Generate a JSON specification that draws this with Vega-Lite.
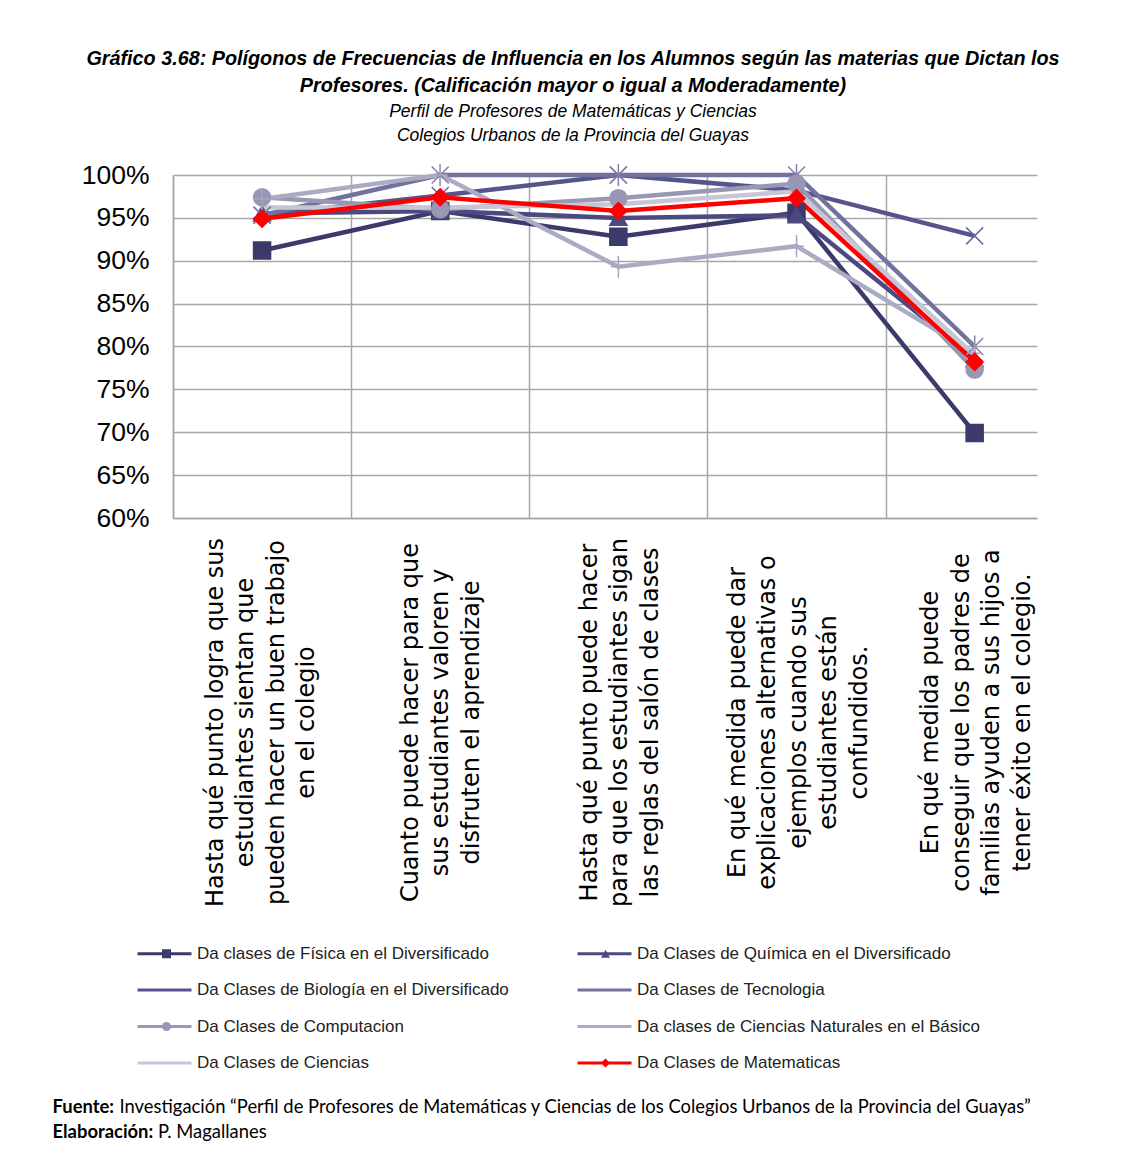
{
  "$schema": "https://vega.github.io/schema/vega-lite/v6.json",
  "width": 864,
  "height": 343,
  "autosize": "none",
  "padding": {"left": 173, "top": 175, "right": 89, "bottom": 651},
  "background": "white",
  "config": {"view": {"stroke": null}},
  "title": {
    "text": ["Gráfico 3.68: Polígonos de Frecuencias  de Influencia en los Alumnos según las materias que Dictan los", "Profesores. (Calificación mayor o igual a Moderadamente)"],
    "subtitle": ["Perfil de Profesores de Matemáticas y Ciencias", "Colegios Urbanos de la Provincia del Guayas"],
    "font": "Liberation Sans", "fontSize": 19.8, "fontWeight": "bold", "fontStyle": "italic", "lineHeight": 27, "color": "black",
    "subtitleFont": "Liberation Sans", "subtitleFontSize": 17.5, "subtitleFontStyle": "italic", "subtitleLineHeight": 24, "subtitleColor": "black", "subtitlePadding": 8,
    "anchor": "middle", "frame": "group", "dx": -32, "offset": 16
  },
  "data": {"values": [
    {"serie": "Da clases de Física en el Diversificado", "pregunta_n": 1, "valor": 0.912},
    {"serie": "Da clases de Física en el Diversificado", "pregunta_n": 2, "valor": 0.958},
    {"serie": "Da clases de Física en el Diversificado", "pregunta_n": 3, "valor": 0.928},
    {"serie": "Da clases de Física en el Diversificado", "pregunta_n": 4, "valor": 0.956},
    {"serie": "Da clases de Física en el Diversificado", "pregunta_n": 5, "valor": 0.699},
    {"serie": "Da Clases de Química en el Diversificado", "pregunta_n": 1, "valor": 0.955},
    {"serie": "Da Clases de Química en el Diversificado", "pregunta_n": 2, "valor": 0.958},
    {"serie": "Da Clases de Química en el Diversificado", "pregunta_n": 3, "valor": 0.950},
    {"serie": "Da Clases de Química en el Diversificado", "pregunta_n": 4, "valor": 0.953},
    {"serie": "Da Clases de Química en el Diversificado", "pregunta_n": 5, "valor": 0.785},
    {"serie": "Da Clases de Biología en el Diversificado", "pregunta_n": 1, "valor": 0.953},
    {"serie": "Da Clases de Biología en el Diversificado", "pregunta_n": 2, "valor": 0.976},
    {"serie": "Da Clases de Biología en el Diversificado", "pregunta_n": 3, "valor": 1.0},
    {"serie": "Da Clases de Biología en el Diversificado", "pregunta_n": 4, "valor": 0.982},
    {"serie": "Da Clases de Biología en el Diversificado", "pregunta_n": 5, "valor": 0.929},
    {"serie": "Da Clases de Tecnologia", "pregunta_n": 1, "valor": 0.953},
    {"serie": "Da Clases de Tecnologia", "pregunta_n": 2, "valor": 1.0},
    {"serie": "Da Clases de Tecnologia", "pregunta_n": 3, "valor": 1.0},
    {"serie": "Da Clases de Tecnologia", "pregunta_n": 4, "valor": 1.0},
    {"serie": "Da Clases de Tecnologia", "pregunta_n": 5, "valor": 0.800},
    {"serie": "Da Clases de Computacion", "pregunta_n": 1, "valor": 0.974},
    {"serie": "Da Clases de Computacion", "pregunta_n": 2, "valor": 0.960},
    {"serie": "Da Clases de Computacion", "pregunta_n": 3, "valor": 0.973},
    {"serie": "Da Clases de Computacion", "pregunta_n": 4, "valor": 0.990},
    {"serie": "Da Clases de Computacion", "pregunta_n": 5, "valor": 0.773},
    {"serie": "Da clases de Ciencias Naturales en el Básico", "pregunta_n": 1, "valor": 0.972},
    {"serie": "Da clases de Ciencias Naturales en el Básico", "pregunta_n": 2, "valor": 1.0},
    {"serie": "Da clases de Ciencias Naturales en el Básico", "pregunta_n": 3, "valor": 0.893},
    {"serie": "Da clases de Ciencias Naturales en el Básico", "pregunta_n": 4, "valor": 0.917},
    {"serie": "Da clases de Ciencias Naturales en el Básico", "pregunta_n": 5, "valor": 0.792},
    {"serie": "Da Clases de Ciencias", "pregunta_n": 1, "valor": 0.962},
    {"serie": "Da Clases de Ciencias", "pregunta_n": 2, "valor": 0.962},
    {"serie": "Da Clases de Ciencias", "pregunta_n": 3, "valor": 0.966},
    {"serie": "Da Clases de Ciencias", "pregunta_n": 4, "valor": 0.981},
    {"serie": "Da Clases de Ciencias", "pregunta_n": 5, "valor": 0.790},
    {"serie": "Da Clases de Matematicas", "pregunta_n": 1, "valor": 0.949},
    {"serie": "Da Clases de Matematicas", "pregunta_n": 2, "valor": 0.974},
    {"serie": "Da Clases de Matematicas", "pregunta_n": 3, "valor": 0.958},
    {"serie": "Da Clases de Matematicas", "pregunta_n": 4, "valor": 0.973},
    {"serie": "Da Clases de Matematicas", "pregunta_n": 5, "valor": 0.782}
  ]},
  "encoding": {
    "x": {
      "field": "pregunta_n", "type": "quantitative",
      "scale": {"domain": [0.5, 5.35], "nice": false, "zero": false},
      "axis": {
        "values": [0.5, 1.5, 2.5, 3.5, 4.5],
        "grid": true, "gridColor": "#a6a6a6", "gridWidth": 1.5,
        "ticks": false, "domain": true, "domainColor": "#a6a6a6", "domainWidth": 1.5,
        "labelExpr": "datum.value == 0.5 ? ['Hasta qué punto logra que sus', 'estudiantes sientan que', 'pueden hacer un buen trabajo', 'en el colegio'] : datum.value == 1.5 ? ['Cuanto  puede hacer para que', 'sus estudiantes valoren y', 'disfruten el aprendizaje'] : datum.value == 2.5 ? ['Hasta qué punto puede hacer', 'para que los estudiantes sigan', 'las reglas del salón de clases'] : datum.value == 3.5 ? ['En qué medida puede dar', 'explicaciones alternativas o', 'ejemplos cuando sus', 'estudiantes están', 'confundidos.'] : ['En qué medida puede', 'conseguir que los padres de', 'familias ayuden a sus hijos a', 'tener éxito en el colegio.']",
        "labelOffset": {"condition": [
          {"test": "datum.value == 0.5", "value": 42},
          {"test": "datum.value == 1.5", "value": 59},
          {"test": "datum.value == 2.5", "value": 60},
          {"test": "datum.value == 3.5", "value": 30}
        ], "value": 45},
        "labelAngle": 270, "labelAlign": "center", "labelBaseline": "middle",
        "labelPadding": 204, "labelLineHeight": 30.5, "labelFont": "DejaVu Sans", "labelFontSize": 24, "labelColor": "black",
        "labelOverlap": false, "labelBound": false, "labelFlush": false, "labelLimit": 0,
        "title": "Investigación “Perfil de Profesores de Matemáticas y Ciencias de los Colegios Urbanos de la Provincia del Guayas”",
        "titleFont": "Lato", "titleFontSize": 18.4, "titleFontWeight": "normal", "titleColor": "black",
        "titleAlign": "left", "titleBaseline": "alphabetic", "titleAngle": 0, "titleX": -54, "titleY": 594, "titleLimit": 1200
      }
    },
    "y": {
      "field": "valor", "type": "quantitative",
      "scale": {"domain": [0.6, 1.0], "nice": false, "zero": false},
      "axis": {
        "values": [0.6, 0.65, 0.7, 0.75, 0.8, 0.85, 0.9, 0.95, 1.0],
        "format": ".0%", "grid": true, "gridColor": "#a6a6a6", "gridWidth": 1.5,
        "ticks": false, "domain": true, "domainColor": "#a6a6a6", "domainWidth": 1.5,
        "labelFont": "Liberation Sans", "labelFontSize": 26.5, "labelColor": "black", "labelPadding": 24,
        "title": ["Fuente:", "Elaboración:"],
        "titleFont": "Lato", "titleFontSize": 18.4, "titleFontWeight": "bold", "titleColor": "black",
        "titleAngle": 0, "titleAlign": "left", "titleBaseline": "alphabetic", "titleLineHeight": 25,
        "titleX": -121, "titleY": 937
      }
    }
  },
  "resolve": {"scale": {"color": "independent", "shape": "independent"}},
  "layer": [
    {
      "mark": {"type": "line", "strokeWidth": 4.5},
      "encoding": {
        "color": {
          "field": "serie", "type": "nominal",
          "scale": {
            "domain": ["Da clases de Física en el Diversificado", "Da Clases de Química en el Diversificado", "Da Clases de Biología en el Diversificado", "Da Clases de Tecnologia", "Da Clases de Computacion", "Da clases de Ciencias Naturales en el Básico", "Da Clases de Ciencias", "Da Clases de Matematicas"],
            "range": ["#3b3b6b", "#4a4a80", "#55558c", "#72729f", "#9898b5", "#ababc4", "#c6c6d6", "#ff0000"]
          },
          "legend": {
            "orient": "none", "legendX": -39, "legendY": 770, "columns": 2, "direction": "horizontal", "columnPadding": 62, "rowPadding": 18.5,
            "padding": 0, "symbolSize": 100, "symbolType": "M-1,0L9.8,0", "symbolStrokeWidth": 3, "symbolOpacity": 1, "labelOffset": 46,
            "labelFont": "Liberation Sans", "labelFontSize": 17, "labelColor": "#222222", "labelLimit": 500,
            "title": null
          }
        }
      }
    },
    {
      "mark": {"type": "point", "filled": true, "size": 290, "strokeWidth": 1.5, "opacity": 1},
      "encoding": {
        "color": {
          "field": "serie", "type": "nominal",
          "scale": {
            "domain": ["Da clases de Física en el Diversificado", "Da Clases de Química en el Diversificado", "Da Clases de Biología en el Diversificado", "Da Clases de Tecnologia", "Da Clases de Computacion", "Da clases de Ciencias Naturales en el Básico", "Da Clases de Ciencias", "Da Clases de Matematicas"],
            "range": ["#3b3b6b", "#4a4a80", "#55558c", "#72729f", "#9898b5", "#ababc4", "#c6c6d6", "#ff0000"]
          },
          "legend": {
            "orient": "none", "legendX": -15, "legendY": 770, "columns": 2, "direction": "horizontal", "columnPadding": 87, "rowPadding": 18.5,
            "padding": 0, "symbolSize": 81, "symbolStrokeColor": "#7a7aa6", "symbolStrokeWidth": 1.2, "symbolOpacity": 1, "labelOffset": 23,
            "labelFont": "Liberation Sans", "labelFontSize": 17, "labelOpacity": 0, "labelLimit": 500,
            "title": "P. Magallanes", "titleOrient": "bottom", "titleAnchor": "start", "titlePadding": 52,
            "titleFont": "Lato", "titleFontSize": 18.4, "titleFontWeight": "normal", "titleColor": "black"
          }
        },
        "shape": {
          "field": "serie", "type": "nominal",
          "scale": {
            "domain": ["Da clases de Física en el Diversificado", "Da Clases de Química en el Diversificado", "Da Clases de Biología en el Diversificado", "Da Clases de Tecnologia", "Da Clases de Computacion", "Da clases de Ciencias Naturales en el Básico", "Da Clases de Ciencias", "Da Clases de Matematicas"],
            "range": ["square", "triangle-up", "M-1,-1L1,1M-1,1L1,-1", "M-1,-1L1,1M-1,1L1,-1M0,-1.3L0,1.3", "circle", "M0,-1.3L0,1.3M-0.9,0L0.9,0", "M0,0", "diamond"]
          },
          "legend": {
            "orient": "none", "legendX": -15, "legendY": 770, "columns": 2, "direction": "horizontal", "columnPadding": 87, "rowPadding": 18.5,
            "padding": 0, "symbolSize": 81, "symbolStrokeColor": "#7a7aa6", "symbolStrokeWidth": 1.2, "symbolOpacity": 1, "labelOffset": 23,
            "labelFont": "Liberation Sans", "labelFontSize": 17, "labelOpacity": 0, "labelLimit": 500,
            "title": "P. Magallanes", "titleOrient": "bottom", "titleAnchor": "start", "titlePadding": 52,
            "titleFont": "Lato", "titleFontSize": 18.4, "titleFontWeight": "normal", "titleColor": "black"
          }
        },
        "stroke": {
          "condition": [
            {"test": "datum.serie == 'Da clases de Física en el Diversificado'", "value": "#3b3b6b"},
            {"test": "datum.serie == 'Da Clases de Química en el Diversificado'", "value": "#4a4a80"},
            {"test": "datum.serie == 'Da Clases de Biología en el Diversificado'", "value": "#6a6a9e"},
            {"test": "datum.serie == 'Da Clases de Tecnologia'", "value": "#8080aa"},
            {"test": "datum.serie == 'Da Clases de Computacion'", "value": "#9898b5"},
            {"test": "datum.serie == 'Da clases de Ciencias Naturales en el Básico'", "value": "#a5a5c0"},
            {"test": "datum.serie == 'Da Clases de Matematicas'", "value": "#ff0000"}
          ],
          "value": "#c6c6d6"
        }
      }
    }
  ]
}
